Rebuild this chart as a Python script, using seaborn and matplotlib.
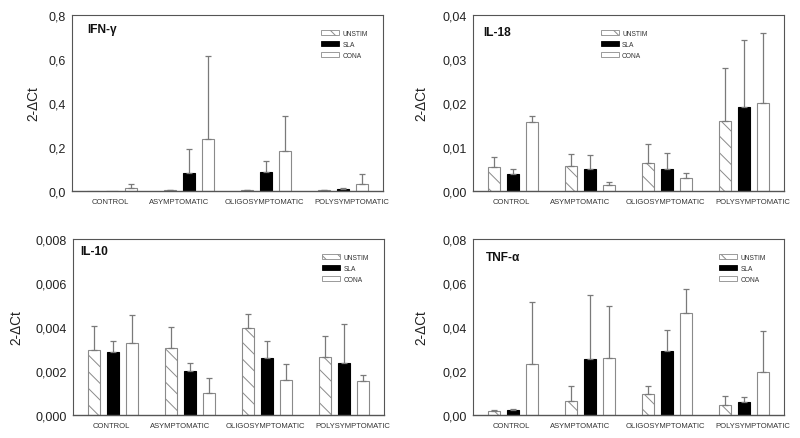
import numpy as np
import pandas as pd

import matplotlib
matplotlib.use("Agg")
import matplotlib.pyplot as plt
from matplotlib.patches import Patch
from matplotlib.ticker import FuncFormatter
from matplotlib.transforms import ScaledTranslation
import seaborn as sns

sns.set_theme(style="white")
plt.rcParams["font.family"] = ["Liberation Sans", "DejaVu Sans"]
plt.rcParams["hatch.linewidth"] = 0.7

GROUPS = ["CONTROL", "ASYMPTOMATIC", "OLIGOSYMPTOMATIC", "POLYSYMPTOMATIC"]
STIMS = ["UNSTIM", "SLA", "CONA"]

# rows follow STIMS, columns follow GROUPS; err = upper SD whisker
IFNG_MEAN = [[0.001, 0.003, 0.004, 0.003],
             [0.001, 0.083, 0.086, 0.007],
             [0.014, 0.236, 0.180, 0.032]]
IFNG_ERR = [[0.0, 0.001, 0.0005, 0.0005],
            [0.0, 0.108, 0.050, 0.005],
            [0.019, 0.378, 0.159, 0.045]]

IL18_MEAN = [[0.0054, 0.0056, 0.0064, 0.0160],
             [0.0038, 0.0050, 0.0050, 0.0192],
             [0.0157, 0.0014, 0.0030, 0.0200]]
IL18_ERR = [[0.0024, 0.0029, 0.0043, 0.0120],
            [0.0011, 0.0032, 0.0036, 0.0152],
            [0.0013, 0.0006, 0.0010, 0.0158]]

IL10_MEAN = [[0.00294, 0.00306, 0.00397, 0.00265],
             [0.00285, 0.00200, 0.00258, 0.00236],
             [0.00327, 0.00102, 0.00161, 0.00153]]
IL10_ERR = [[0.00112, 0.00094, 0.00062, 0.00095],
            [0.00053, 0.00035, 0.00078, 0.00179],
            [0.00128, 0.00068, 0.00071, 0.00029]]

TNF_MEAN = [[0.0020, 0.0065, 0.0095, 0.0045],
            [0.0021, 0.0256, 0.0291, 0.0058],
            [0.0232, 0.0261, 0.0465, 0.0197]]
TNF_ERR = [[0.0003, 0.0068, 0.0038, 0.0040],
           [0.0006, 0.0288, 0.0094, 0.0024],
           [0.0283, 0.0234, 0.0108, 0.0183]]

EDGE = "#8a8a8a"
SPINE = "#555555"
FACE = {"UNSTIM": "white", "SLA": "black", "CONA": "white"}
EDGES = {"UNSTIM": EDGE, "SLA": "black", "CONA": EDGE}
HATCH = {"UNSTIM": "\\\\", "SLA": None, "CONA": None}
# the original software does not centre the group names exactly (pixels)
LABEL_SHIFT = [-2, -10, -1.5, 9]


def comma_fmt(decimals):
    return FuncFormatter(lambda v, _: f"{v:.{decimals}f}".replace(".", ","))


def panel(ax, title, means, errs, ymax, step, decimals, title_xy, ylab_x, leg_xy):
    df = pd.DataFrame({
        "group": GROUPS * len(STIMS),
        "stim": np.repeat(STIMS, len(GROUPS)),
        "value": np.ravel(means),
    })
    sns.barplot(data=df, x="group", y="value", hue="stim", order=GROUPS,
                hue_order=STIMS, palette=FACE, width=0.75, gap=0.38,
                errorbar=None, legend=False, ax=ax)

    for stim, cont, err in zip(STIMS, ax.containers, errs):
        err = np.asarray(err)
        xs, ys = [], []
        for bar in cont:
            bar.set_edgecolor(EDGES[stim])
            bar.set_linewidth(0.8)
            if HATCH[stim]:
                bar.set_hatch(HATCH[stim])
            xs.append(bar.get_x() + bar.get_width() / 2)
            ys.append(bar.get_height())
        xs, ys = np.array(xs), np.array(ys)
        keep = err > 0
        ax.errorbar(xs[keep], ys[keep], yerr=[np.zeros(keep.sum()), err[keep]],
                    fmt="none", ecolor="#7a7a7a", elinewidth=0.9,
                    capsize=2.3, capthick=0.9, zorder=1)

    ax.set_xlim(-0.52, 3.52)
    ax.set_ylim(0, ymax)
    ax.set_yticks(np.arange(0, ymax + step / 2, step))
    ax.yaxis.set_major_formatter(comma_fmt(decimals))
    ax.set_xlabel("")
    ax.set_ylabel("2-ΔCt", fontsize=9.8, color="#222222")
    ax.yaxis.set_label_coords(ylab_x, 0.5)
    ax.tick_params(axis="y", direction="out", length=2.5, width=0.6,
                   colors=SPINE, labelsize=9, labelcolor="#222222", pad=2)
    ax.tick_params(axis="x", length=0, labelsize=5.5, labelcolor="#333333", pad=5)
    for lab, dx in zip(ax.get_xticklabels(), LABEL_SHIFT):
        lab.set_transform(lab.get_transform()
                          + ScaledTranslation(dx / 100, 0, ax.figure.dpi_scale_trans))
    for spine in ax.spines.values():
        spine.set_edgecolor(SPINE)
        spine.set_linewidth(0.8)
    ax.spines["bottom"].set_linewidth(1.0)

    ax.text(title_xy[0], title_xy[1], title, transform=ax.transAxes, fontsize=8.6,
            fontweight="bold", va="center", ha="left", color="#111111")

    handles = [Patch(facecolor=FACE[s], edgecolor=EDGES[s], hatch=HATCH[s],
                     linewidth=0.6) for s in STIMS]
    ax.legend(handles, STIMS, loc="upper left", bbox_to_anchor=leg_xy,
              frameon=False, fontsize=4.8, handlelength=2.7, handleheight=0.9,
              handletextpad=0.5, labelspacing=0.6, borderpad=0,
              labelcolor="#333333")


fig = plt.figure(figsize=(8, 4.39), dpi=100, facecolor="white")
W, H = 800, 439
ax1 = fig.add_axes([72 / W, (H - 192) / H, 311 / W, 176 / H])
ax2 = fig.add_axes([473 / W, (H - 192) / H, 311 / W, 176 / H])
ax3 = fig.add_axes([73 / W, (H - 416) / H, 311 / W, 176 / H])
ax4 = fig.add_axes([473 / W, (H - 416) / H, 311 / W, 176 / H])

panel(ax1, "IFN-γ", IFNG_MEAN, IFNG_ERR, 0.8, 0.2, 1,
      (0.05, 0.92), -0.103, (0.79, 0.935))
panel(ax2, "IL-18", IL18_MEAN, IL18_ERR, 0.04, 0.01, 2,
      (0.033, 0.905), -0.145, (0.40, 0.935))
panel(ax3, "IL-10", IL10_MEAN, IL10_ERR, 0.008, 0.002, 3,
      (0.022, 0.93), -0.161, (0.79, 0.935))
panel(ax4, "TNF-α", TNF_MEAN, TNF_ERR, 0.08, 0.02, 2,
      (0.042, 0.90), -0.145, (0.78, 0.935))

fig.savefig("out.png", dpi=100, facecolor="white")
